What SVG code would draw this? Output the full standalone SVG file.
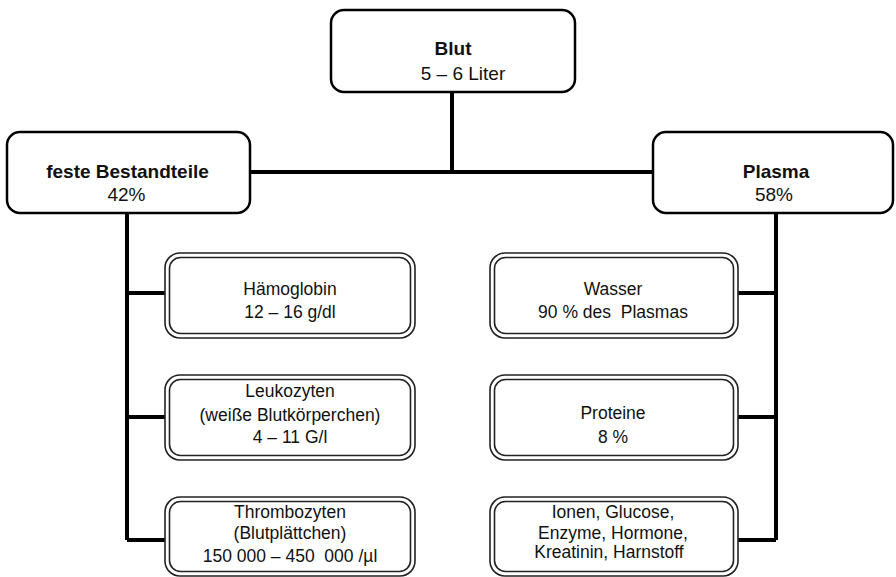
<svg xmlns="http://www.w3.org/2000/svg" width="896" height="577" viewBox="0 0 896 577">
<style>
.top{fill:#fff;stroke:#000;stroke-width:2.5}
.outer{fill:#fff;stroke:#222;stroke-width:1.6}
.inner{fill:none;stroke:#222;stroke-width:1.6}
.t{font-family:"Liberation Sans",Arial,sans-serif;fill:#111;text-anchor:middle}
.big{font-size:19px}
.b{font-weight:bold}
.small{font-size:17.5px}
.conn{stroke:#000;stroke-width:4;fill:none}
</style>
<rect width="896" height="577" fill="#fff"/>
<g id="connectors">
<path class="conn" d="M452 92V172M250 172H653"/>
<path class="conn" d="M127 213V540M127 293H165M127 417H165M127 540H165"/>
<path class="conn" d="M776 213V540M738 293H776M738 417H776M738 540H776"/>
</g>
<g id="blut">
<rect class="top" x="331" y="10" width="244" height="82" rx="13"/>
<text class="t big b" x="453" y="55">Blut</text>
<text class="t big" x="463" y="80">5 – 6 Liter</text>
</g>
<g id="feste">
<rect class="top" x="7" y="132" width="243" height="81" rx="13"/>
<text class="t big b" x="127.5" y="178">feste Bestandteile</text>
<text class="t big" x="126.5" y="201">42%</text>
</g>
<g id="plasma">
<rect class="top" x="653" y="132" width="240" height="81" rx="13"/>
<text class="t big b" x="776" y="178">Plasma</text>
<text class="t big" x="774" y="201">58%</text>
</g>
<g id="haemoglobin">
<rect class="outer" x="165" y="253" width="250" height="85" rx="15"/>
<rect class="inner" x="169.5" y="257.5" width="241" height="76" rx="11"/>
<text class="t small" x="290" y="295">Hämoglobin</text>
<text class="t small" x="290" y="318">12 – 16 g/dl</text>
</g>
<g id="leukozyten">
<rect class="outer" x="165" y="375" width="250" height="85" rx="15"/>
<rect class="inner" x="169.5" y="379.5" width="241" height="76" rx="11"/>
<text class="t small" x="290" y="397">Leukozyten</text>
<text class="t small" x="290" y="421">(weiße Blutkörperchen)</text>
<text class="t small" x="290" y="443">4 – 11 G/l</text>
</g>
<g id="thrombozyten">
<rect class="outer" x="165" y="497" width="250" height="79" rx="15"/>
<rect class="inner" x="169.5" y="501.5" width="241" height="70" rx="11"/>
<text class="t small" x="290" y="518">Thrombozyten</text>
<text class="t small" x="290" y="539">(Blutplättchen)</text>
<text class="t small" x="290" y="562" xml:space="preserve">150 000 – 450  000 /µl</text>
</g>
<g id="wasser">
<rect class="outer" x="490" y="253" width="248" height="85" rx="15"/>
<rect class="inner" x="494.5" y="257.5" width="239" height="76" rx="11"/>
<text class="t small" x="613" y="295">Wasser</text>
<text class="t small" x="613" y="318" xml:space="preserve">90 % des  Plasmas</text>
</g>
<g id="proteine">
<rect class="outer" x="490" y="375" width="248" height="85" rx="15"/>
<rect class="inner" x="494.5" y="379.5" width="239" height="76" rx="11"/>
<text class="t small" x="613" y="419">Proteine</text>
<text class="t small" x="613" y="443">8 %</text>
</g>
<g id="ionen">
<rect class="outer" x="490" y="497" width="248" height="79" rx="15"/>
<rect class="inner" x="494.5" y="501.5" width="239" height="70" rx="11"/>
<text class="t small" x="613" y="518">Ionen, Glucose,</text>
<text class="t small" x="613" y="539">Enzyme, Hormone,</text>
<text class="t small" x="609" y="558" fill="#000">Kreatinin, Harnstoff</text>
</g>
</svg>
